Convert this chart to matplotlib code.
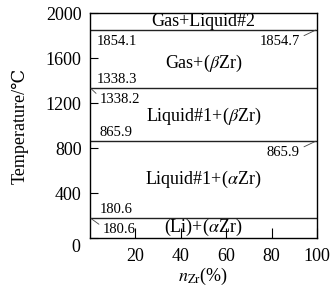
import matplotlib
matplotlib.use("Agg")
import matplotlib.pyplot as plt

plt.rcParams['font.family'] = ['Liberation Serif', 'DejaVu Serif']
plt.rcParams['mathtext.fontset'] = 'stix'

# isotherms (degC) separating the phase fields
isotherms = [1854.1, 1338.3, 865.9, 180.6]
t_min, t_max = 0, 2000

# phase fields from top to bottom
phases = ['Gas+Liquid#2', r'Gas+($\beta$Zr)', r'Liquid#1+($\beta$Zr)',
          r'Liquid#1+($\alpha$Zr)', r'(Li)+($\alpha$Zr)']

# reaction temperatures written beside the isotherms
# (text, side, above/below, leader line, temperature)
notes = [
    ('1854.1', 'left', 'below', False, 1854.1),
    ('1854.7', 'right', 'below', True, 1854.7),
    ('1338.3', 'left', 'above', False, 1338.3),
    ('1338.2', 'left', 'below', True, 1338.2),
    ('865.9', 'left', 'above', False, 865.9),
    ('865.9', 'right', 'below', True, 865.9),
    ('180.6', 'left', 'above', False, 180.6),
    ('180.6', 'left', 'below', True, 180.6),
]

xticks = [20, 40, 60, 80, 100]
yticks = [0, 400, 800, 1200, 1600, 2000]

fig = plt.figure(figsize=(3.34, 2.92), dpi=100)
ax = fig.add_axes([0.269, 0.185, 0.68, 0.77])

for t in isotherms:
    ax.axhline(t, color='#222222', lw=1.0)

bounds = [t_max] + isotherms + [t_min]
for i, name in enumerate(phases):
    mid = (bounds[i] + bounds[i + 1]) / 2
    if i == 1:
        mid -= 40
    if i == 2:
        mid -= 20
    ax.text(50, mid, name, ha='center', va='center', fontsize=13)

for txt, side, pos, leader, t in notes:
    x0 = 0 if side == 'left' else 100
    dy = 8.5 if pos == 'above' else -12
    if side == 'left':
        dx = 10 if t < 1000 else 7
        ha = 'left'
        rel = (0, 0.7)
    else:
        dx = -17
        ha = 'right'
        rel = (1, 0.8)
    if leader and side == 'left':
        dx += 3
    ax.annotate(txt, xy=(x0, t), xytext=(dx, dy), textcoords='offset pixels',
                ha=ha, va='center', fontsize=10.5,
                arrowprops=dict(arrowstyle='-', lw=0.6, color='#444444',
                                shrinkA=1, shrinkB=1, relpos=rel) if leader else None)

ax.set_xlim(0, 100)
ax.set_ylim(t_min, t_max)
ax.set_xticks(xticks)
ax.set_yticks(yticks)
# the zero of the y axis sits a little below the corner in the original
ax.set_yticklabels([''] + [str(v) for v in yticks[1:]])
ax.annotate('0', xy=(0, t_min), xytext=(-14, -10), textcoords='offset pixels',
            ha='center', va='center', fontsize=13)
ax.tick_params(direction='in', labelsize=13, width=0.8)
ax.tick_params(axis='x', pad=7, length=7)
ax.tick_params(axis='y', pad=6, length=6)
for s in ax.spines.values():
    s.set_linewidth(1.0)

ax.set_ylabel('Temperature/℃', fontsize=13, labelpad=12)
ax.set_xlabel(r'$n_{\mathrm{Zr}}$(%)', fontsize=13, labelpad=1)

fig.savefig('out.png', dpi=100)
